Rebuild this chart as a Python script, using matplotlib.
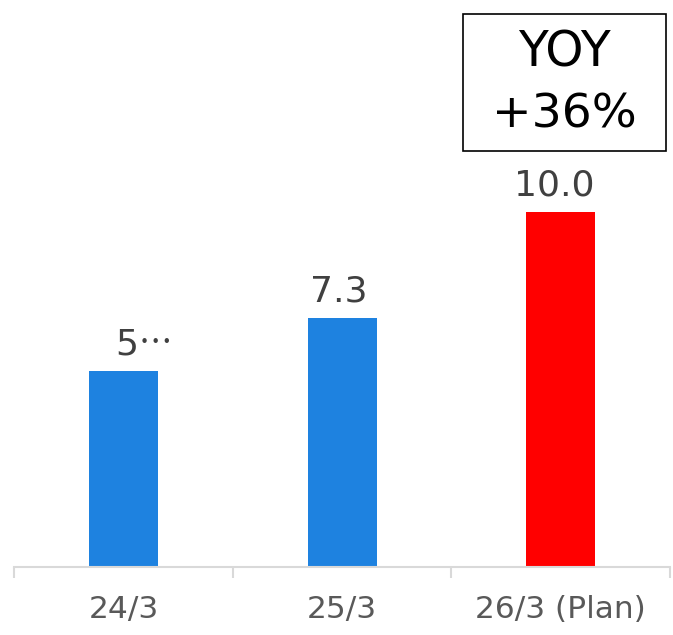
import matplotlib.pyplot as plt
from matplotlib.patches import Rectangle
from matplotlib.ticker import FixedLocator

# fiscal-year figures
periods = ['24/3', '25/3', '26/3 (Plan)']
values = [5.95, 7.3, 10.0]
value_labels = ['5…', '7.3', '10.0']
bar_colors = ['#1E82E0', '#1E82E0', '#FF0000']
yoy_text = ['YOY', '+36%']

fig = plt.figure(figsize=(6.73, 6.35), dpi=100)
ax = fig.add_axes([0.0215, 0.1063, 0.974, 0.8937])

x = list(range(len(periods)))
bars = ax.bar(x, values, width=0.316, color=bar_colors)
ax.set_xlim(-0.5, len(periods) - 0.5)
ax.set_ylim(0.945, 15.4)

# value labels above each bar; a truncated label gets a centred ellipsis
label_dx = [-8, -3, -6]
for rect, lab, dx in zip(bars, value_labels, label_dx):
    top = (rect.get_x() + rect.get_width() / 2, rect.get_height())
    head, ell, _ = lab.partition('…')
    if ell:
        ax.annotate(head, top, xytext=(dx, 17), textcoords='offset pixels',
                    ha='left', va='baseline', fontsize=26, color='#404040')
        ax.annotate(ell, top, xytext=(15, 17), textcoords='offset pixels',
                    ha='left', va='baseline', fontsize=24, color='#404040',
                    family=['Noto Sans CJK JP'])
    else:
        ax.annotate(lab, top, xytext=(dx, 17), textcoords='offset pixels',
                    ha='center', va='baseline', fontsize=26, color='#404040')

# axis styling
for side in ['left', 'right', 'top']:
    ax.spines[side].set_visible(False)
ax.spines['bottom'].set_color('#D9D9D9')
ax.spines['bottom'].set_linewidth(1.5)
ax.set_yticks([])
ax.set_xticks(x)
ax.set_xticklabels(periods, fontsize=22.5, color='#595959')
ax.tick_params(axis='x', which='major', length=0, pad=20)
ax.xaxis.set_minor_locator(FixedLocator([-0.5, 0.5, 1.5, 2.5]))
ax.tick_params(axis='x', which='minor', length=8, width=1.5, color='#D9D9D9',
               direction='out')

# growth callout box
fig.patches.append(Rectangle((0.688, 0.7622), 0.3016, 0.2157,
                             transform=fig.transFigure, fill=False,
                             edgecolor='black', linewidth=1.2))
fig.text(0.8388, 0.9170, yoy_text[0], ha='center', va='center', fontsize=35)
fig.text(0.8388, 0.8189, yoy_text[1], ha='center', va='center', fontsize=34)

fig.savefig('out.png', dpi=100)
